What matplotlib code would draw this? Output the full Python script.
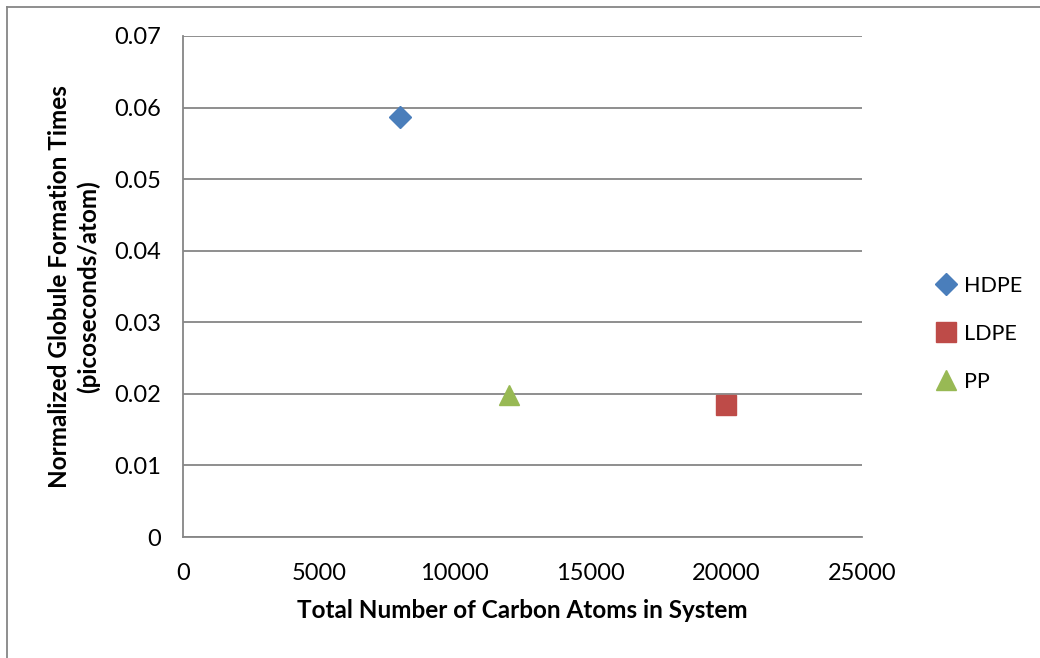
import matplotlib.pyplot as plt
from matplotlib.lines import Line2D

# data
series = ['HDPE', 'LDPE', 'PP']
carbon_atoms = [8000, 20000, 12000]
formation_times = [0.0587, 0.0184, 0.0198]
markers = ['D', 's', '^']
colors = ['#4a7ebb', '#be4b48', '#98b954']
sizes = [11, 14, 14]

x_ticks = [0, 5000, 10000, 15000, 20000, 25000]
y_ticks = [0, 0.01, 0.02, 0.03, 0.04, 0.05, 0.06, 0.07]

plt.rcParams['font.family'] = ['Lato', 'DejaVu Sans']

W, H = 1040, 658
fig = plt.figure(figsize=(W / 100, H / 100), dpi=100)
ax = fig.add_axes([183 / W, 1 - 537 / H, (862 - 183) / W, (537 - 36) / H])

for name, x, y, m, c, s in zip(series, carbon_atoms, formation_times, markers, colors, sizes):
    ax.plot([x], [y], linestyle='none', marker=m, color=c, markersize=s,
            markeredgecolor=c, label=name, zorder=3, clip_on=False)

ax.set_xlim(0, 25000)
ax.set_ylim(0, 0.07)
ax.set_xticks(x_ticks)
ax.set_yticks(y_ticks)
ax.set_xticklabels([str(v) for v in x_ticks])
ax.set_yticklabels(['0' if v == 0 else f'{v:.2f}' for v in y_ticks])
ax.tick_params(length=0, labelsize=17)
ax.tick_params(axis='y', pad=16)
ax.tick_params(axis='x', pad=19)

ax.yaxis.grid(True, color='#868686', linewidth=1.3)
ax.set_axisbelow(True)
for side in ['top', 'right']:
    ax.spines[side].set_visible(False)
for side in ['left', 'bottom']:
    ax.spines[side].set_color('#868686')
    ax.spines[side].set_linewidth(1.3)

xl = ax.set_xlabel('Total Number of Carbon Atoms in System', fontsize=17.5,
                   fontweight='bold')
yl = ax.set_ylabel('Normalized Globule Formation Times\n(picoseconds/atom)',
                   fontsize=17.5, fontweight='bold', linespacing=1.3)
ax.xaxis.set_label_coords(0.5, -(611 - 537) / 501)
xl.set_va('center')
ax.yaxis.set_label_coords((74 - 183) / 679, 0.5)
yl.set_va('center')

handles = [Line2D([], [], linestyle='none', marker=m, color=c, markersize=s)
           for m, c, s in zip(markers, colors, sizes)]
fig.legend(handles, series, loc='center left', bbox_to_anchor=(914 / W, 1 - 334 / H),
           frameon=False, fontsize=15.5, handletextpad=0.2, labelspacing=1.3,
           handlelength=1.2)

# outer chart border (only left and top edges visible in the source)
fig.add_artist(Line2D([7 / W, 7 / W], [0, 1 - 7 / H], color='#868686', lw=1.3,
                      transform=fig.transFigure))
fig.add_artist(Line2D([7 / W, 1], [1 - 7 / H, 1 - 7 / H], color='#868686', lw=1.3,
                      transform=fig.transFigure))

fig.savefig('out.png', dpi=100, facecolor='white')
